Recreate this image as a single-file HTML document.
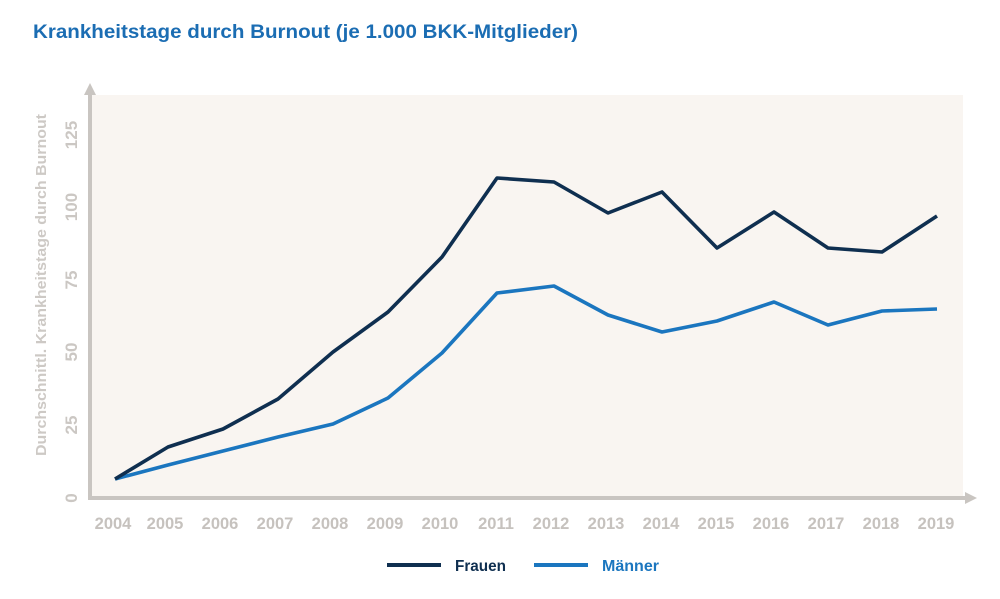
<!DOCTYPE html>
<html><head><meta charset="utf-8"><style>
html,body{margin:0;padding:0;background:#fff;}
svg{display:block;}
text{font-family:"Liberation Sans",sans-serif;font-weight:bold;}
</style></head><body>
<svg width="1000" height="599" viewBox="0 0 1000 599" xmlns="http://www.w3.org/2000/svg">
<rect x="0" y="0" width="1000" height="599" fill="#ffffff"/>
<text x="33" y="38" font-size="19" fill="#1b6db3" textLength="545" lengthAdjust="spacingAndGlyphs">Krankheitstage durch Burnout (je 1.000 BKK-Mitglieder)</text>
<rect x="92" y="95" width="871" height="402" fill="#f9f5f1"/>
<!-- axes -->
<line x1="90" y1="92" x2="90" y2="498" stroke="#c9c5c1" stroke-width="4"/>
<polygon points="90,83 84,95 96,95" fill="#c9c5c1"/>
<line x1="88" y1="498" x2="967" y2="498" stroke="#c9c5c1" stroke-width="4"/>
<polygon points="977,498 965,492 965,504" fill="#c9c5c1"/>
<!-- y title -->
<text transform="translate(46,285) rotate(-90)" text-anchor="middle" font-size="15" fill="#cdc9c5" textLength="342" lengthAdjust="spacingAndGlyphs">Durchschnittl. Krankheitstage durch Burnout</text>
<!-- y ticks -->
<g font-size="17" fill="#cbc7c3" text-anchor="middle" style="font-weight:normal">
<text transform="translate(77,498) rotate(-90)">0</text>
<text transform="translate(77,425) rotate(-90)">25</text>
<text transform="translate(77,352) rotate(-90)">50</text>
<text transform="translate(77,280) rotate(-90)">75</text>
<text transform="translate(77,207) rotate(-90)">100</text>
<text transform="translate(77,135) rotate(-90)">125</text>
</g>
<!-- x ticks -->
<g font-size="16.5" fill="#c6c2be" text-anchor="middle">
<text x="113" y="529">2004</text>
<text x="165" y="529">2005</text>
<text x="220" y="529">2006</text>
<text x="275" y="529">2007</text>
<text x="330" y="529">2008</text>
<text x="385" y="529">2009</text>
<text x="440" y="529">2010</text>
<text x="496" y="529">2011</text>
<text x="551" y="529">2012</text>
<text x="606" y="529">2013</text>
<text x="661" y="529">2014</text>
<text x="716" y="529">2015</text>
<text x="771" y="529">2016</text>
<text x="826" y="529">2017</text>
<text x="881" y="529">2018</text>
<text x="936" y="529">2019</text>
</g>
<!-- series -->
<polyline fill="none" stroke="#1b76bf" stroke-width="3.6" stroke-linejoin="round" points="115,479 168,465 223,451 278,437 333,424 388,398 442,353 497,293 554,286 608,315 662,332 717,321 774,302 828,325 882,311 937,309"/>
<polyline fill="none" stroke="#0f2f50" stroke-width="3.6" stroke-linejoin="round" points="115,479 168,447 223,429 278,399 333,352 388,312 442,257 497,178 554,182 608,213 662,192 717,248 774,212 828,248 882,252 937,216"/>
<!-- legend -->
<line x1="387" y1="565" x2="441" y2="565" stroke="#0f2f50" stroke-width="4"/>
<text x="455" y="571" font-size="16" fill="#0f2f50" textLength="51" lengthAdjust="spacingAndGlyphs">Frauen</text>
<line x1="534" y1="565" x2="588" y2="565" stroke="#1b76bf" stroke-width="4"/>
<text x="602" y="571" font-size="16" fill="#1b76bf" textLength="57" lengthAdjust="spacingAndGlyphs">Männer</text>
</svg>
</body></html>
